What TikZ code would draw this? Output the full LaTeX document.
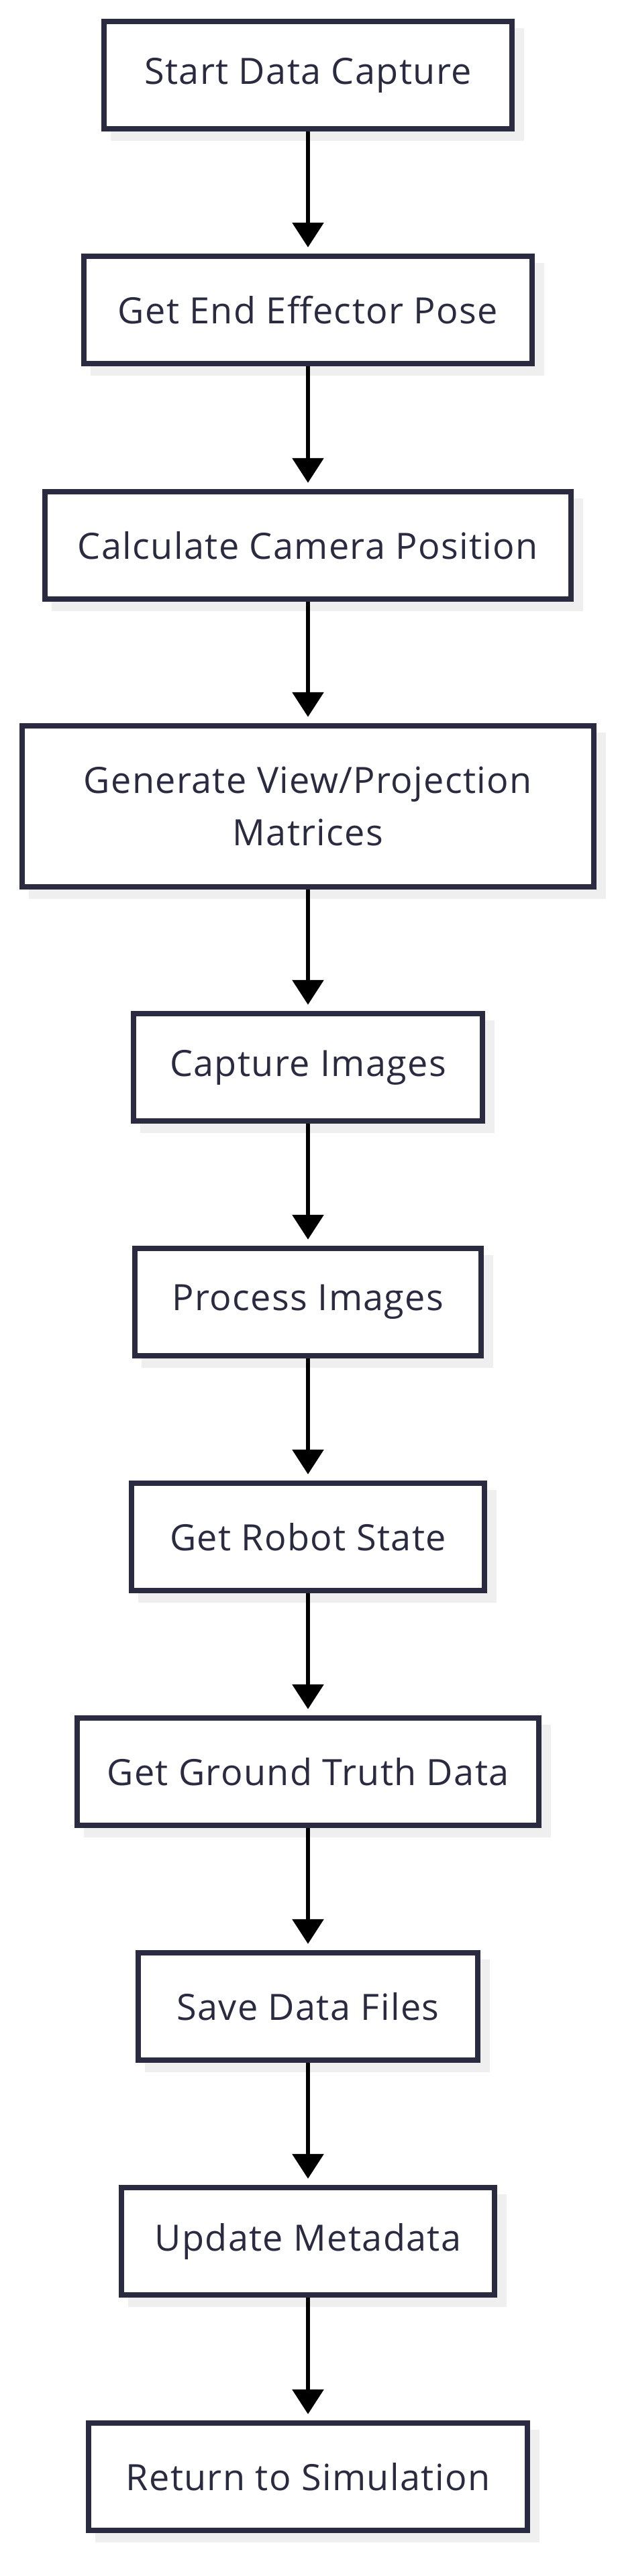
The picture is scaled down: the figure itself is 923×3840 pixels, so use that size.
\documentclass[tikz,border=0pt]{standalone}
\usepackage{fontspec}
\setmainfont{Open Sans}[LetterSpace=2.5]
\usetikzlibrary{arrows.meta,shadows}
\definecolor{boxline}{HTML}{2A2A40}
\definecolor{boxshade}{HTML}{EFEFEF}
\tikzset{
  stepbox/.style={draw=boxline, line width=4.25pt, fill=white, text=boxline,
    font=\fontsize{27}{39}\selectfont, align=center, inner xsep=0pt,
    minimum height=80pt,
    drop shadow={shadow xshift=7pt, shadow yshift=-7pt, fill=boxshade,
      draw=boxshade, opacity=1}},
  flowarrow/.style={line width=3.25pt, -{Triangle[width=23pt, length=18.5pt]},
    shorten >=4.5pt}
}
\begin{document}
\begin{tikzpicture}[x=0.5pt, y=-0.5pt]
\useasboundingbox (0,0) rectangle (923,3840);

\node[stepbox, minimum width=304pt] (start) at (459, 112) {Start Data Capture};
\node[stepbox, minimum width=334pt] (pose) at (459, 462) {Get End Effector Pose};
\node[stepbox, minimum width=392pt] (campos) at (459, 813) {Calculate Camera Position};
\node[stepbox, minimum width=426pt, minimum height=120pt] (matrices) at (459, 1202) {Generate View/Projection\\Matrices};
\node[stepbox, minimum width=260pt] (capture) at (459, 1591) {Capture Images};
\node[stepbox, minimum width=258pt] (process) at (459, 1941) {Process Images};
\node[stepbox, minimum width=263pt] (robot) at (459, 2291) {Get Robot State};
\node[stepbox, minimum width=344pt] (truth) at (459, 2641) {Get Ground Truth Data};
\node[stepbox, minimum width=253pt] (save) at (459, 2991) {Save Data Files};
\node[stepbox, minimum width=278pt] (meta) at (459, 3341) {Update Metadata};
\node[stepbox, minimum width=327pt] (return) at (459, 3692) {Return to Simulation};

\draw[flowarrow] (start) -- (pose);
\draw[flowarrow] (pose) -- (campos);
\draw[flowarrow] (campos) -- (matrices);
\draw[flowarrow] (matrices) -- (capture);
\draw[flowarrow] (capture) -- (process);
\draw[flowarrow] (process) -- (robot);
\draw[flowarrow] (robot) -- (truth);
\draw[flowarrow] (truth) -- (save);
\draw[flowarrow] (save) -- (meta);
\draw[flowarrow] (meta) -- (return);

\end{tikzpicture}
\end{document}
